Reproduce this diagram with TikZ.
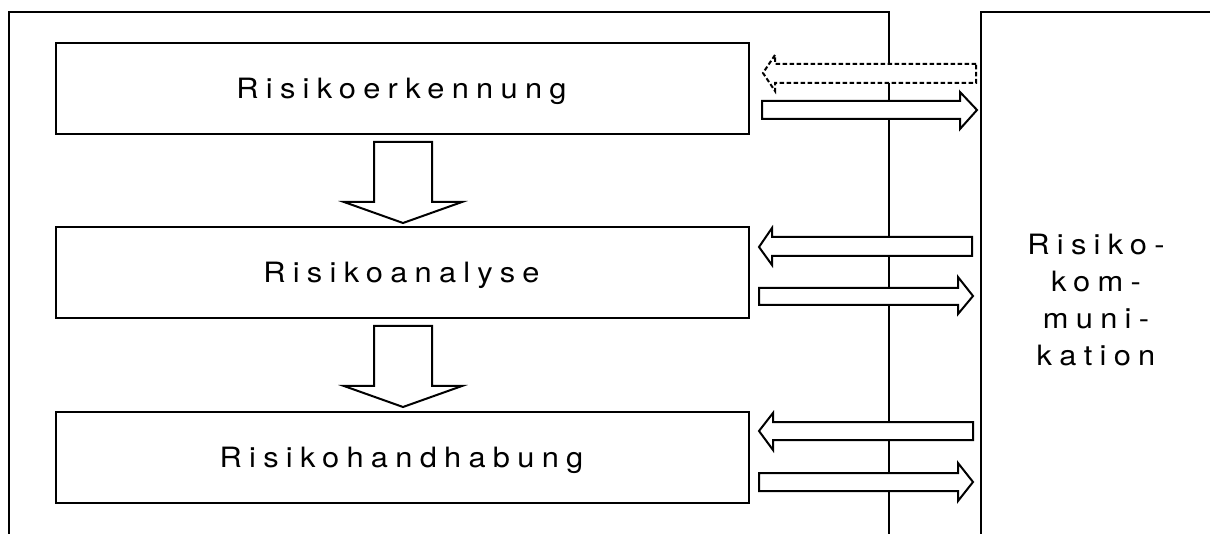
\documentclass[tikz,border=0pt]{standalone}
\usepackage{fontspec}
\setmainfont{TeX Gyre Heros}
\newfontfamily\spaced[LetterSpace=26,FakeStretch=1.1]{TeX Gyre Heros}
\begin{document}
\begin{tikzpicture}[x=1pt,y=-1pt,line width=2pt,line join=miter,
  stepbox/.style={draw,fill=white,minimum width=693pt,minimum height=91pt,inner sep=0pt},
  lbl/.style={anchor=base,inner sep=0pt,font=\fontsize{28pt}{37.3pt}\spaced},
  blockarrow/.style={draw,fill=white,line width=2pt},
  dashedarrow/.style={blockarrow,dash pattern=on 4.5pt off 2.5pt}]
\useasboundingbox (0,0) rectangle (1210,534);
\begin{scope}
\clip (0,0) rectangle (1210,534);
% process frame and communication frame
\draw (9,540) -- (9,12) -- (889,12) -- (889,540);
\draw (1220,12) -- (981,12) -- (981,540);
\end{scope}

% process steps
\node[stepbox] (erk) at (402.5,88.5) {};
\node[stepbox] (ana) at (402.5,272.5) {};
\node[stepbox] (hand) at (402.5,457) {};
\node[lbl] (terk) at ([xshift=-1pt,yshift=-10pt]erk.center) {Risikoerkennung};
\node[lbl] (tana) at ([xshift=-1pt,yshift=-10pt]ana.center) {Risikoanalyse};
\node[lbl] (thand) at ([xshift=-1pt,yshift=-10pt]hand.center) {Risikohandhabung};

% communication label (base anchor sits on the last line)
\node[lbl,align=center] (kom) at (1096,366)
  {Risiko-\\kom-\\muni-\\kation};

% downward block arrows between the steps
\draw[blockarrow] (374,142) -- (432,142) -- (432,202) -- (462,202) -- (403,223)
  -- (344,202) -- (374,202) -- cycle;
\draw[blockarrow] (374,326) -- (432,326) -- (432,386) -- (462,386) -- (403,407)
  -- (344,386) -- (374,386) -- cycle;

% exchange arrows to and from communication
\draw[dashedarrow] (976,64) -- (775,64) -- (775,55) -- (763,73) -- (775,91)
  -- (775,83) -- (976,83) -- cycle;
\draw[blockarrow] (762,101) -- (960,101) -- (960,92) -- (977,110) -- (960,129)
  -- (960,119) -- (762,119) -- cycle;

\draw[blockarrow] (972,237) -- (772,237) -- (772,228) -- (759,247) -- (772,265)
  -- (772,256) -- (972,256) -- cycle;
\draw[blockarrow] (759,288) -- (958,288) -- (958,277) -- (973,296) -- (958,314)
  -- (958,305) -- (759,305) -- cycle;

\draw[blockarrow] (973,422) -- (773,422) -- (773,413) -- (759,431) -- (773,450)
  -- (773,440) -- (973,440) -- cycle;
\draw[blockarrow] (759,473) -- (958,473) -- (958,463) -- (973,482) -- (958,501)
  -- (958,491) -- (759,491) -- cycle;
\end{tikzpicture}
\end{document}
